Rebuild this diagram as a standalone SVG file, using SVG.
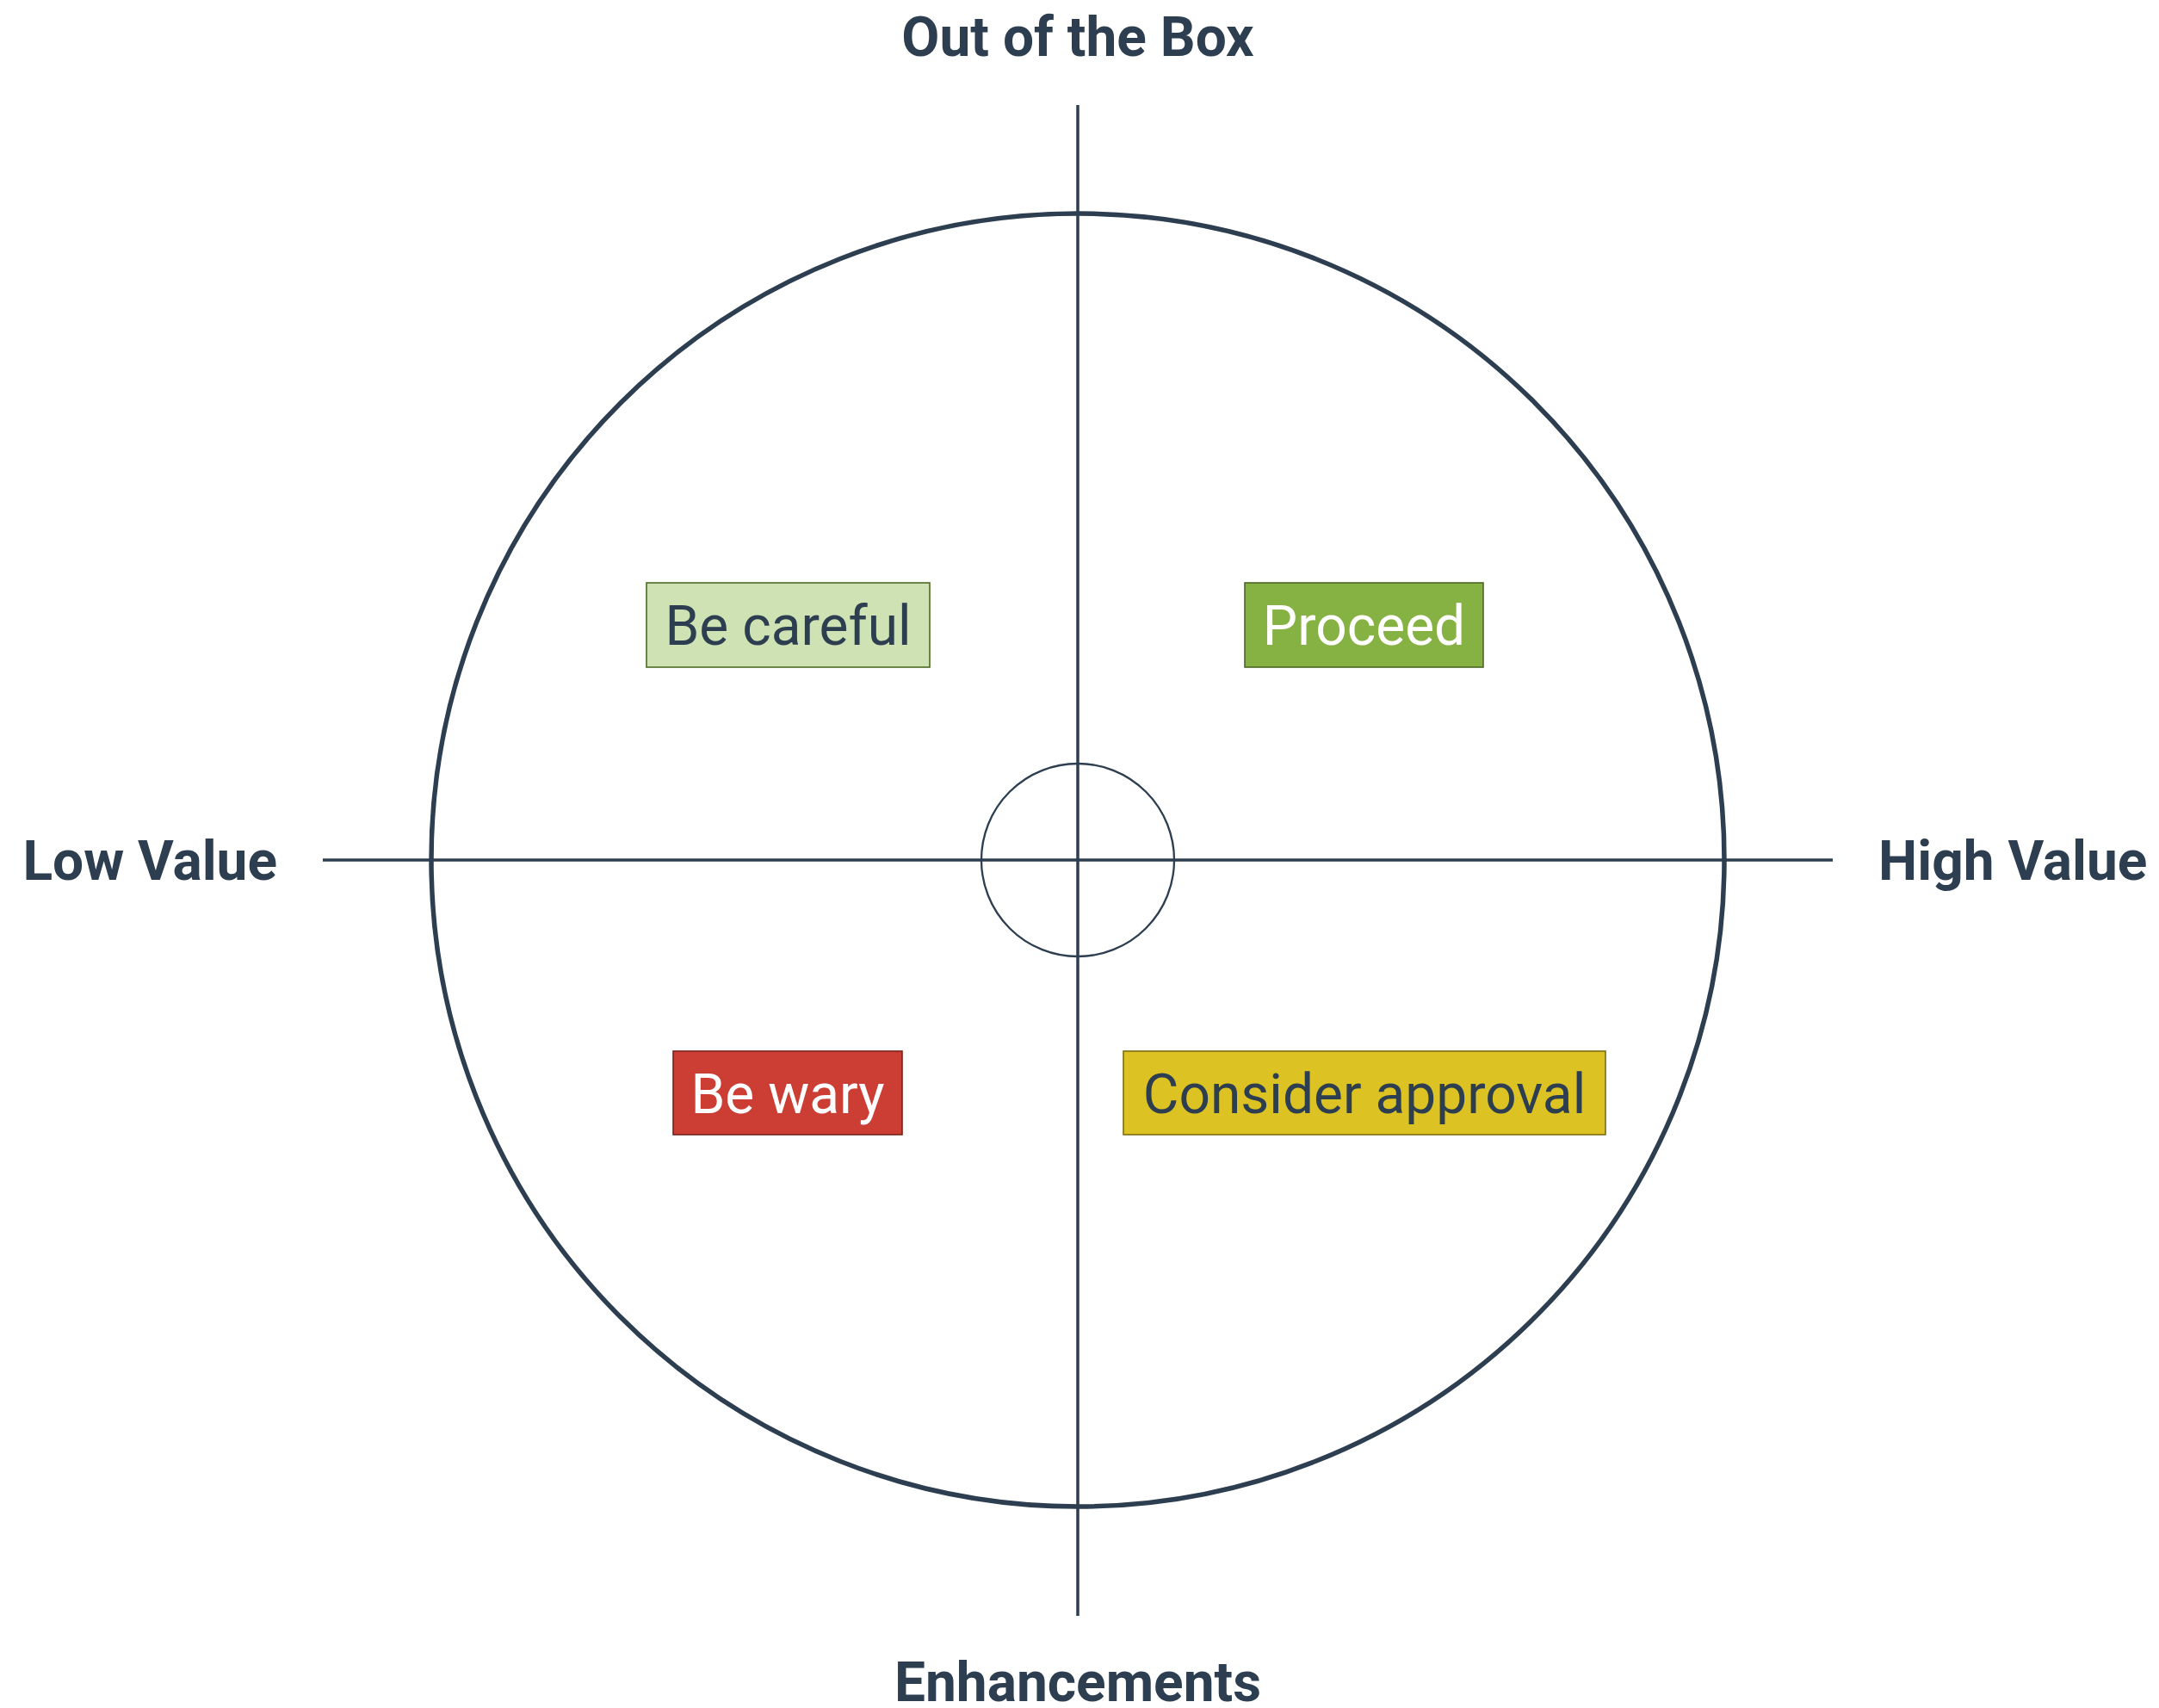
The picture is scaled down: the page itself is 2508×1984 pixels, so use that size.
<svg xmlns="http://www.w3.org/2000/svg" width="2508" height="1984" viewBox="0 0 2508 1984">
<style>
.axis{stroke:#2c3e50;stroke-width:3.5;fill:none}
.big{stroke:#2c3e50;stroke-width:5.5;fill:none}
.small{stroke:#2c3e50;stroke-width:2.3;fill:none}
.lbl{font-family:Roboto,"Liberation Sans",sans-serif;font-weight:700;font-size:64px;fill:#2c3e50}
.bt{font-family:Roboto,"Liberation Sans",sans-serif;font-size:64px;text-anchor:middle}
.box{stroke-width:1.6}
</style>
<rect width="2508" height="1984" fill="#ffffff"/>
<g id="circles">
<circle class="big" cx="1252" cy="999" r="751"/>
<circle class="small" cx="1252" cy="999" r="112"/>
</g>
<g id="connectors">
<line class="axis" x1="1252" y1="122" x2="1252" y2="1877"/>
<line class="axis" x1="375" y1="999" x2="2129" y2="999"/>
</g>
<g id="axis-labels">
<text class="lbl" x="1252" y="65" text-anchor="middle">Out of the Box</text>
<text class="lbl" x="1252" y="1976" text-anchor="middle">Enhancements</text>
<text class="lbl" x="322" y="1022" text-anchor="end">Low Value</text>
<text class="lbl" x="2182" y="1022" text-anchor="start">High Value</text>
</g>
<g id="be-careful">
<rect class="box" x="751" y="677" width="329" height="98" fill="#cfe2b3" stroke="#4d6b23"/>
<text class="bt" x="915.5" y="749" fill="#2c3e50">Be careful</text>
</g>
<g id="proceed">
<rect class="box" x="1446" y="677" width="277" height="98" fill="#86b143" stroke="#4b6624"/>
<text class="bt" x="1584.5" y="749" fill="#ffffff">Proceed</text>
</g>
<g id="be-wary">
<rect class="box" x="782" y="1221" width="266" height="97" fill="#cc3e34" stroke="#7b2119"/>
<text class="bt" x="915" y="1293" fill="#ffffff">Be wary</text>
</g>
<g id="consider-approval">
<rect class="box" x="1305" y="1221" width="560" height="97" fill="#dcc323" stroke="#7d6c10"/>
<text class="bt" x="1585" y="1293" fill="#2c3e50">Consider approval</text>
</g>
</svg>
